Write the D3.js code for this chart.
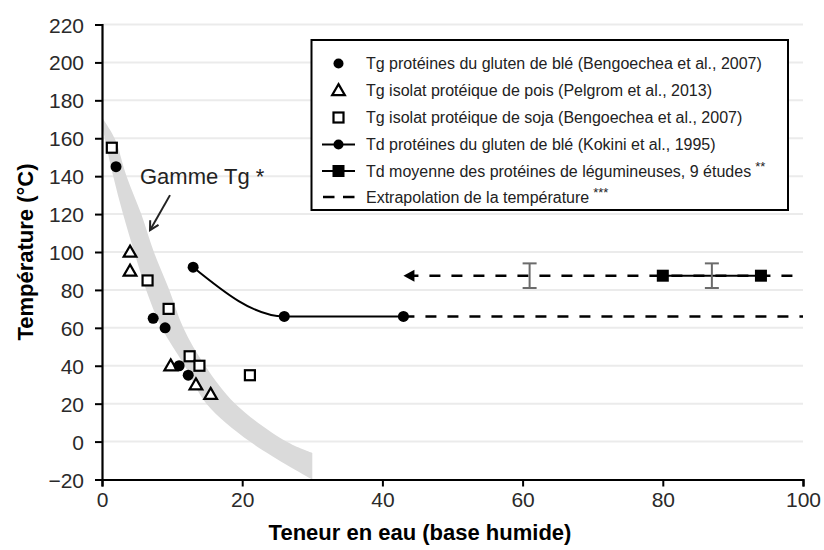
<!DOCTYPE html>
<html><head><meta charset="utf-8">
<script src="https://cdn.jsdelivr.net/npm/d3@7"></script>
<style>
body{margin:0;background:#fff;}
text{font-family:"Liberation Sans",Arial,sans-serif;}
</style></head>
<body><svg id="chart" width="824" height="550"></svg>
<script>
// ---- data ----
const xTicks = [0, 20, 40, 60, 80, 100];
const yTicks = [-20, 0, 20, 40, 60, 80, 100, 120, 140, 160, 180, 200, 220];

const glutenTgX = [2, 7.3, 9, 11, 12.3];
const glutenTgY = [145, 65, 60, 40, 35];
const poisTgX = [4, 4, 9.8, 13.4, 15.5];
const poisTgY = [100, 90, 40, 30, 25];
const sojaTgX = [1.4, 6.5, 9.5, 12.5, 13.9, 21.1];
const sojaTgY = [155, 85, 70, 45, 40, 35];
const kokiniX = [13, 26, 43];
const kokiniY = [92, 66, 66];
const legumX = [80, 94];
const legumY = [87.5, 87.5];
const errX = [61, 87];
const errY = [87.5, 87.5];
const errD = [6.5, 6.5];
const extrapUpperX = [43, 100];
const extrapUpperY = [87.5, 87.5];
const extrapLowerX = [43, 100];
const extrapLowerY = [66, 66];

// Gamme Tg band edges
const bandUpperX = [0, 1.8, 3.5, 5.6, 7.4, 9.6, 11.6, 14.7, 19, 26.3, 30];
const bandUpperY = [171, 160, 140, 120, 100, 80, 60, 40, 20, 0, -6];
const bandLowerX = [0, 0.4, 1.6, 3.0, 4.6, 6.3, 8.5, 11.8, 14.9, 21.1, 30];
const bandLowerY = [168, 160, 140, 120, 100, 80, 60, 40, 20, 0, -20];

const legendLabels = [
  "Tg protéines du gluten de blé (Bengoechea et al., 2007)",
  "Tg isolat protéique de pois (Pelgrom et al., 2013)",
  "Tg isolat protéique de soja (Bengoechea et al., 2007)",
  "Td protéines du gluten de blé (Kokini et al., 1995)",
  "Td moyenne des protéines de légumineuses, 9 études",
  "Extrapolation de la température"
];
const legendSup = ["", "", "", "", "**", "***"];

// ---- layout ----
const svg = d3.select("#chart");
const x = d3.scaleLinear().domain([0, 100]).range([102, 803]);
const y = d3.scaleLinear().domain([-20, 220]).range([479.5, 24.5]);

// gridlines
svg.append("g").selectAll("line").data(yTicks.filter(d => d > -20)).join("line")
  .attr("x1", x(0)).attr("x2", x(100))
  .attr("y1", d => y(d)).attr("y2", d => y(d))
  .attr("stroke", "#ebebeb").attr("stroke-width", 2);

// band
const bl = d3.line().x(d => x(d[0])).y(d => y(d[1])).curve(d3.curveCatmullRom);
const up = bandUpperX.map((v, i) => [v, bandUpperY[i]]);
const lo = bandLowerX.map((v, i) => [v, bandLowerY[i]]).reverse();
const pathStr = bl(up) + "L" + bl(lo).slice(1) + "Z";
svg.append("path").attr("d", pathStr).attr("fill", "#dadada").attr("stroke", "none");

// axes
const yAxis = d3.axisLeft(y).tickValues(yTicks).tickSize(7).tickPadding(11);
const gy = svg.append("g").attr("transform", `translate(${x(0)},0)`).call(yAxis);
const xAxis = d3.axisBottom(x).tickValues(xTicks).tickSize(7).tickPadding(6);
const gx = svg.append("g").attr("transform", `translate(0,${y(-20)})`).call(xAxis);
[gx, gy].forEach(g => {
  g.select(".domain").attr("stroke", "#000").attr("stroke-width", 2.2);
  g.selectAll(".tick line").attr("stroke", "#000").attr("stroke-width", 2);
  g.selectAll(".tick text").attr("fill", "#2a2a2a").style("font-size", "21px")
    .style("font-family", '"Liberation Sans", Arial, sans-serif');
});
gy.selectAll(".tick text").attr("dy", "0.36em");

// axis titles
svg.append("text").attr("x", 420).attr("y", 540).attr("text-anchor", "middle")
  .style("font-size", "22px").style("font-weight", "bold").text("Teneur en eau (base humide)");
svg.append("text").attr("transform", `translate(33,${(y(220) + y(-20)) / 2}) rotate(-90)`)
  .attr("text-anchor", "middle")
  .style("font-size", "22px").style("font-weight", "bold").text("Température (°C)");

// extrapolation lines
svg.append("line").attr("x1", x(extrapLowerX[0])).attr("x2", x(extrapLowerX[1]))
  .attr("y1", y(extrapLowerY[0])).attr("y2", y(extrapLowerY[1]))
  .attr("stroke", "#000").attr("stroke-width", 2.5).attr("stroke-dasharray", "11,11");
svg.append("line").attr("x1", x(extrapUpperX[0]) + 8).attr("x2", x(extrapUpperX[1]))
  .attr("y1", y(extrapUpperY[0])).attr("y2", y(extrapUpperY[1]))
  .attr("stroke", "#000").attr("stroke-width", 2.5).attr("stroke-dasharray", "11,11")
  .attr("stroke-dashoffset", 4);
// arrow head
const ax = x(extrapUpperX[0]), ay = y(extrapUpperY[0]);
svg.append("path").attr("d", `M${ax},${ay} L${ax + 11},${ay - 6} L${ax + 11},${ay + 6} Z`).attr("fill", "#000");

// Kokini smooth line
const kLine = d3.line().x(d => x(d[0])).y(d => y(d[1])).curve(d3.curveMonotoneX);
const kData = kokiniX.map((v, i) => [v, kokiniY[i]]);
svg.append("path").attr("d", kLine(kData)).attr("fill", "none").attr("stroke", "#000").attr("stroke-width", 2);
svg.append("g").selectAll("circle").data(kData).join("circle")
  .attr("cx", d => x(d[0])).attr("cy", d => y(d[1])).attr("r", 5.5).attr("fill", "#000");

// legume line
svg.append("line").attr("x1", x(legumX[0])).attr("x2", x(legumX[1]))
  .attr("y1", y(legumY[0])).attr("y2", y(legumY[1])).attr("stroke", "#000").attr("stroke-width", 2);
svg.append("g").selectAll("rect").data(legumX.map((v, i) => [v, legumY[i]])).join("rect")
  .attr("x", d => x(d[0]) - 6).attr("y", d => y(d[1]) - 6).attr("width", 12).attr("height", 12).attr("fill", "#000");

// error bars
const eb = svg.append("g").attr("stroke", "#6b6b6b").attr("stroke-width", 2).attr("fill", "none");
errX.forEach((v, i) => {
  const cx = x(v), y1 = y(errY[i] + errD[i]), y2 = y(errY[i] - errD[i]);
  eb.append("line").attr("x1", cx).attr("x2", cx).attr("y1", y1).attr("y2", y2);
  eb.append("line").attr("x1", cx - 7).attr("x2", cx + 7).attr("y1", y1).attr("y2", y1);
  eb.append("line").attr("x1", cx - 7).attr("x2", cx + 7).attr("y1", y2).attr("y2", y2);
});

// markers
const tri = d3.symbol().type(d3.symbolTriangle).size(70);
function drawSquares(g, xs, ys) {
  g.selectAll("rect").data(xs.map((v, i) => [v, ys[i]])).join("rect")
    .attr("x", d => x(d[0]) - 5).attr("y", d => y(d[1]) - 5).attr("width", 10).attr("height", 10)
    .attr("fill", "#fff").attr("stroke", "#000").attr("stroke-width", 2.2);
}
function drawTris(g, xs, ys) {
  g.selectAll("path").data(xs.map((v, i) => [v, ys[i]])).join("path")
    .attr("d", tri).attr("transform", d => `translate(${x(d[0])},${y(d[1]) + 1})`)
    .attr("fill", "#fff").attr("stroke", "#000").attr("stroke-width", 2.2);
}
drawSquares(svg.append("g"), sojaTgX, sojaTgY);
drawTris(svg.append("g"), poisTgX, poisTgY);
svg.append("g").selectAll("circle").data(glutenTgX.map((v, i) => [v, glutenTgY[i]])).join("circle")
  .attr("cx", d => x(d[0])).attr("cy", d => y(d[1])).attr("r", 5.5).attr("fill", "#000");

// Gamme Tg annotation
svg.append("text").attr("x", 140).attr("y", 184).style("font-size", "22px").attr("fill", "#222").text("Gamme Tg *");
const t0 = [x(9.7), y(130)], t1 = [x(6.85), y(111.5)];
svg.append("line").attr("x1", t0[0]).attr("y1", t0[1]).attr("x2", t1[0]).attr("y2", t1[1])
  .attr("stroke", "#222").attr("stroke-width", 2);
{
  const ang = Math.atan2(t1[1] - t0[1], t1[0] - t0[0]);
  const L = 10, w = 0.5;
  const p1 = [t1[0] - L * Math.cos(ang - w), t1[1] - L * Math.sin(ang - w)];
  const p2 = [t1[0] - L * Math.cos(ang + w), t1[1] - L * Math.sin(ang + w)];
  svg.append("path").attr("d", `M${p1}L${t1}L${p2}`).attr("fill", "none").attr("stroke", "#222").attr("stroke-width", 2);
}

// legend
const lg = svg.append("g");
lg.append("rect").attr("x", 311.5).attr("y", 40).attr("width", 476.5).attr("height", 170)
  .attr("fill", "#fff").attr("stroke", "#000").attr("stroke-width", 2);
const rowY = [63.5, 90.5, 117.5, 144.5, 171, 197];
const sx = 338.5;
legendLabels.forEach((lab, i) => {
  const t = lg.append("text").attr("x", 366).attr("y", rowY[i] + 5.5).style("font-size", "16px").attr("fill", "#222").text(lab);
  if (legendSup[i]) t.append("tspan").attr("dx", 4).attr("dy", -6).style("font-size", "13px").text(legendSup[i]);
});
lg.append("circle").attr("cx", sx).attr("cy", rowY[0]).attr("r", 5).attr("fill", "#000");
lg.append("path").attr("d", tri).attr("transform", `translate(${sx},${rowY[1] + 1})`).attr("fill", "#fff").attr("stroke", "#000").attr("stroke-width", 2.2);
lg.append("rect").attr("x", sx - 5).attr("y", rowY[2] - 5).attr("width", 10).attr("height", 10).attr("fill", "#fff").attr("stroke", "#000").attr("stroke-width", 2.2);
lg.append("line").attr("x1", 322).attr("x2", 355).attr("y1", rowY[3]).attr("y2", rowY[3]).attr("stroke", "#000").attr("stroke-width", 2);
lg.append("circle").attr("cx", sx).attr("cy", rowY[3]).attr("r", 5).attr("fill", "#000");
lg.append("line").attr("x1", 322).attr("x2", 355).attr("y1", rowY[4]).attr("y2", rowY[4]).attr("stroke", "#000").attr("stroke-width", 2);
lg.append("rect").attr("x", sx - 6).attr("y", rowY[4] - 6).attr("width", 12).attr("height", 12).attr("fill", "#000");
lg.append("line").attr("x1", 323).attr("x2", 355).attr("y1", rowY[5]).attr("y2", rowY[5]).attr("stroke", "#000").attr("stroke-width", 2.5).attr("stroke-dasharray", "11.5,8.5");
</script></body></html>
